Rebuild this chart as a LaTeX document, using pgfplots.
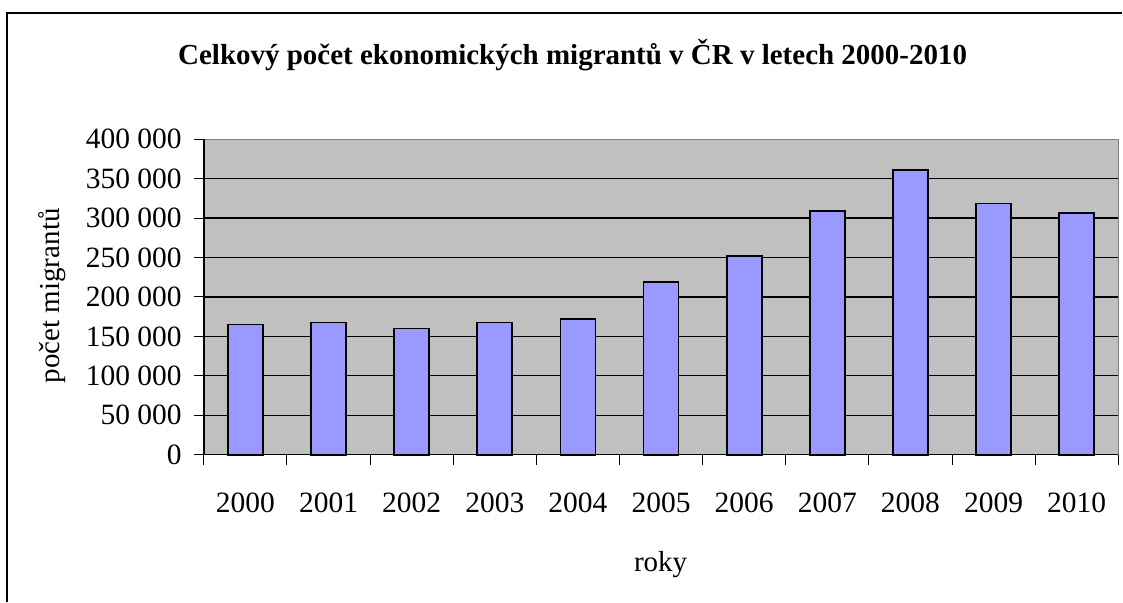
\documentclass[border=0pt]{standalone}
\usepackage{fontspec}
\setmainfont{Liberation Serif}
\usepackage{pgfplots}
\pgfplotsset{compat=1.18}
\definecolor{barblue}{HTML}{9999FF}
\definecolor{plotgray}{HTML}{C0C0C0}
\begin{document}
\begin{tikzpicture}[x=1pt,y=1pt]
\path (0,0) rectangle (1123,602);
\draw[line width=1.5pt] (7,0) -- (7,589) -- (1123,589);
\node[font=\fontsize{29}{34}\selectfont\bfseries] at (573,547) {Celkový počet ekonomických migrantů v ČR v letech 2000-2010};
\node[rotate=90,font=\fontsize{29}{34}\selectfont] at (52,306) {počet migrantů};
\node[font=\fontsize{29}{34}\selectfont] at (661,37) {roky};
\begin{axis}[
  at={(204pt,147pt)}, anchor=south west,
  scale only axis, width=915pt, height=315.7pt,
  xmin=-0.5, xmax=10.5, ymin=0, ymax=400000,
  axis background/.style={fill=plotgray},
  axis line style={draw=gray, line width=1pt},
  ybar, bar width=35pt,
  xtick={0,1,2,3,4,5,6,7,8,9,10},
  xticklabels={2000,2001,2002,2003,2004,2005,2006,2007,2008,2009,2010},
  minor xtick={-0.5,0.5,1.5,2.5,3.5,4.5,5.5,6.5,7.5,8.5,9.5,10.5},
  major x tick style={draw=none},
  minor tick length=10pt,
  major tick length=10pt,
  tick align=outside,
  tick pos=left,
  tick style={black, line width=1pt},
  ytick={0,50000,100000,150000,200000,250000,300000,350000,400000},
  yticklabels={0,50 000,100 000,150 000,200 000,250 000,300 000,350 000,400 000},
  scaled y ticks=false,
  ymajorgrids,
  major grid style={black, line width=1.2pt},
  tick label style={font=\fontsize{29.5}{34}\selectfont},
  xticklabel style={anchor=base, yshift=-48pt, inner sep=0pt},
  yticklabel style={anchor=east, inner sep=0pt, xshift=-12pt},
  clip=false,
]
\addplot[fill=barblue, draw=black, line width=1.8pt] coordinates {
(0,165100) (1,167600) (2,160000) (3,167600) (4,172300) (5,219200)
(6,252100) (7,309100) (8,360700) (9,318400) (10,306600)};
\draw[black, line width=1.5pt] (rel axis cs:0,0) -- (rel axis cs:0,1);
\draw[black, line width=1.5pt] (rel axis cs:0,0) -- (rel axis cs:1,0);
\end{axis}
\end{tikzpicture}
\end{document}
